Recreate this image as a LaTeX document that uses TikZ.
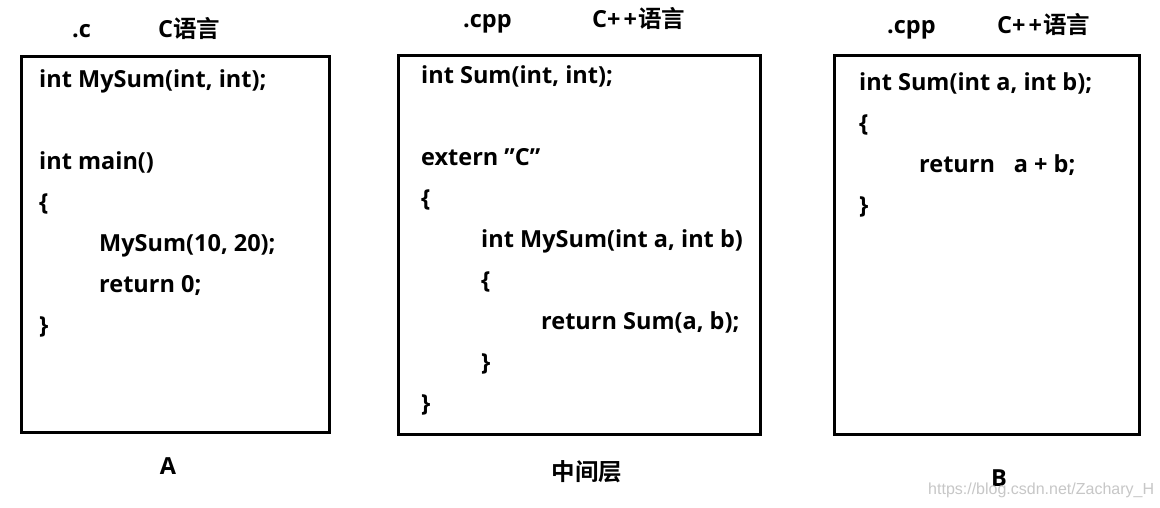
\documentclass[tikz,border=0pt]{standalone}
\usepackage{fontspec}
\setmainfont{Open Sans}[BoldFont={Open Sans Bold}]
\newfontfamily\cjk{Noto Sans CJK SC}[BoldFont={Noto Sans CJK SC Bold}]
\newfontfamily\wmfont{Liberation Sans}
\usetikzlibrary{positioning}
\newcommand{\cpplang}{C+\kern3pt+\kern1pt{\cjk\bfseries 语言}}
\tikzset{
    codebox/.style={draw=black, line width=3pt, fill=white, inner sep=0pt},
    codeline/.style={anchor=base west, inner sep=0pt, font=\fontsize{23.5}{28}\selectfont\bfseries},
    filetag/.style={anchor=base west, inner sep=0pt, font=\fontsize{23.5}{28}\selectfont\bfseries},
    caption/.style={anchor=base, inner sep=0pt, font=\fontsize{23.5}{28}\selectfont\bfseries},
    watermark/.style={anchor=base west, inner sep=0pt, text=black!22, font=\fontsize{16}{18}\selectfont\wmfont}
}
\begin{document}
\begin{tikzpicture}[x=1pt,y=-1pt]
\useasboundingbox[fill=white] (0,0) rectangle (1160,507);
% frames
\node[codebox, minimum width=308pt, minimum height=376pt] (boxA) at (175,244) {};
\node[codebox, minimum width=362pt, minimum height=379pt] (boxMid) at (579,244.5) {};
\node[codebox, minimum width=305pt, minimum height=379pt] (boxB) at (986.5,244.5) {};
% titles
\node[filetag] (extA) at (72,37) {.c};
\node[filetag] (langA) at (158,37) {C{\cjk\bfseries 语言}};
\node[filetag] (extMid) at (463,27) {.cpp};
\node[filetag] (langMid) at (592,27) {\cpplang};
\node[filetag] (extB) at (887,33) {.cpp};
\node[filetag] (langB) at (997,33) {\cpplang};
% A
\node[codeline] (a1) at (39,87) {int MySum(int, int);};
\node[codeline] (a2) at (39,169) {int main()};
\node[codeline] (a3) at (39,210) {\{};
\node[codeline] (a4) at (99,251) {MySum(10, 20);};
\node[codeline] (a5) at (99,292) {return 0;};
\node[codeline] (a6) at (39,333) {\}};
% middle layer
\node[codeline] (m1) at (421,83) {int Sum(int, int);};
\node[codeline] (m2) at (421,165) {extern \char34 C\char34};
\node[codeline] (m3) at (421,206) {\{};
\node[codeline] (m4) at (481,247) {int MySum(int a, int b)};
\node[codeline] (m5) at (481,288) {\{};
\node[codeline] (m6) at (541,329) {return Sum(a, b);};
\node[codeline] (m7) at (481,370) {\}};
\node[codeline] (m8) at (421,411) {\}};
% B
\node[codeline] (b1) at (859,90) {int Sum(int a, int b);};
\node[codeline] (b2) at (859,131) {\{};
\node[codeline] (b3) at (919,172) {return\hspace{0.8em}a + b;};
\node[codeline] (b4) at (859,213) {\}};
% captions
\node[caption] (capA) at (168,474) {A};
\node[caption] (capMid) at (587,480) {\cjk\bfseries 中间层};
\node[caption] (capB) at (999,486) {B};
\node[watermark] (wm) at (928,494) {https://blog.csdn.net/Zachary\_H};
\end{tikzpicture}
\end{document}
